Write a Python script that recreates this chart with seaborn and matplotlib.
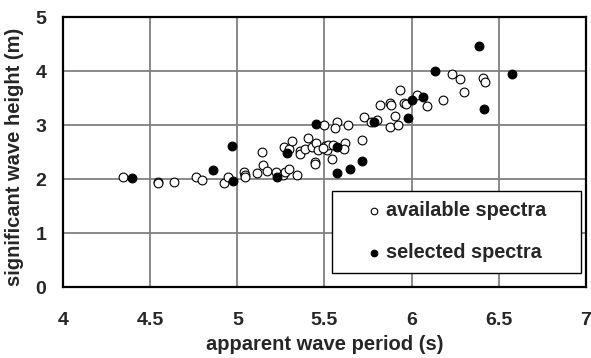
import pandas as pd
import matplotlib.pyplot as plt
import seaborn as sns

# available spectra (open circles)
avail_period = [4.345, 4.544, 4.547, 4.636, 4.761, 4.795, 4.924, 4.948, 5.040, 5.042,
                5.042, 5.111, 5.140, 5.147, 5.170, 5.219, 5.264, 5.273, 5.295, 5.341,
                5.270, 5.299, 5.316, 5.360, 5.362, 5.388, 5.407, 5.428, 5.449, 5.465,
                5.444, 5.446, 5.499, 5.503, 5.513, 5.522, 5.551, 5.545, 5.570, 5.561,
                5.618, 5.612, 5.637, 5.717, 5.725, 5.767, 5.802, 5.821, 5.874, 5.882,
                5.907, 5.878, 5.924, 5.935, 5.959, 5.967, 6.034, 6.090, 6.179, 6.231,
                6.280, 6.299, 6.409, 6.420, 5.493]
avail_height = [2.05, 1.96, 1.94, 1.96, 2.04, 1.98, 1.94, 2.04, 2.14, 2.08,
                2.04, 2.11, 2.50, 2.27, 2.15, 2.14, 2.08, 2.13, 2.19, 2.08,
                2.60, 2.56, 2.71, 2.52, 2.47, 2.56, 2.76, 2.59, 2.67, 2.54,
                2.32, 2.28, 3.00, 2.62, 2.55, 2.63, 2.64, 2.38, 3.07, 2.95,
                2.68, 2.57, 3.01, 2.72, 3.16, 3.06, 3.10, 3.37, 3.42, 3.38,
                3.18, 2.97, 3.01, 3.65, 3.41, 3.40, 3.56, 3.35, 3.47, 3.95,
                3.86, 3.62, 3.88, 3.81, 2.58]

# selected spectra (filled circles)
sel_period = [4.396, 4.858, 4.967, 4.973, 5.226, 5.283, 5.449, 5.574, 5.574, 5.647,
              5.717, 5.785, 5.977, 6.003, 6.068, 6.132, 6.388, 6.418, 6.576]
sel_height = [2.02, 2.17, 2.62, 1.97, 2.05, 2.48, 3.02, 2.59, 2.11, 2.19,
              2.34, 3.07, 3.13, 3.47, 3.53, 4.01, 4.46, 3.31, 3.95]

x_ticks = [4, 4.5, 5, 5.5, 6, 6.5, 7]
x_tick_labels = ["4", "4.5", "5", "5.5", "6", "6.5", "7"]
y_ticks = [0, 1, 2, 3, 4, 5]

sns.set_theme(style="white")
plt.rcParams['font.family'] = ['Liberation Sans', 'DejaVu Sans']

avail = pd.DataFrame({"period": avail_period, "height": avail_height})
sel = pd.DataFrame({"period": sel_period, "height": sel_height})

fig = plt.figure(figsize=(5.91, 3.58), dpi=100)
ax = fig.add_axes([0.107, 0.197, 0.884, 0.755])

sns.scatterplot(data=avail, x="period", y="height", ax=ax, s=40,
                facecolor="white", edgecolor="black", linewidth=0.8,
                label="available spectra", zorder=3)
sns.scatterplot(data=sel, x="period", y="height", ax=ax, s=40,
                color="black", edgecolor="black", linewidth=0.8,
                label="selected spectra", zorder=4)

ax.set_xlim(4, 7)
ax.set_ylim(0, 5)
ax.set_xticks(x_ticks)
ax.set_xticklabels(x_tick_labels)
ax.set_yticks(y_ticks)
ax.grid(True, color="#808080", linewidth=1.3)
ax.set_axisbelow(True)
for side in ["left", "bottom", "top", "right"]:
    ax.spines[side].set_color("black")
    ax.spines[side].set_linewidth(1.6)
ax.tick_params(axis="both", direction="out", length=4.3, width=1, color="#555555",
               labelsize=14)
ax.tick_params(axis="x", pad=13.5)
ax.tick_params(axis="y", pad=8)
for lab in ax.get_xticklabels() + ax.get_yticklabels():
    lab.set_fontweight("bold")

ax.set_xlabel("apparent wave period (s)", fontsize=14.5, fontweight="bold", labelpad=4)
ax.set_ylabel("significant wave height (m)", fontsize=14.5, fontweight="bold")
ax.yaxis.set_label_coords(-0.075, 0.485)

# legend box sized like the original
leg = ax.legend(loc="upper left", bbox_to_anchor=(0.514, 0.0526, 0.4766, 0.3057),
                mode="expand", prop={"weight": "bold", "size": 14.3},
                markerscale=0.75, frameon=True, fancybox=False,
                borderpad=0.52, labelspacing=1.17, handlelength=3.22,
                handletextpad=-1.0, borderaxespad=0)
leg.get_frame().set_edgecolor("black")
leg.get_frame().set_linewidth(1.0)
leg.get_frame().set_alpha(1)

plt.savefig("out.png", dpi=100)
